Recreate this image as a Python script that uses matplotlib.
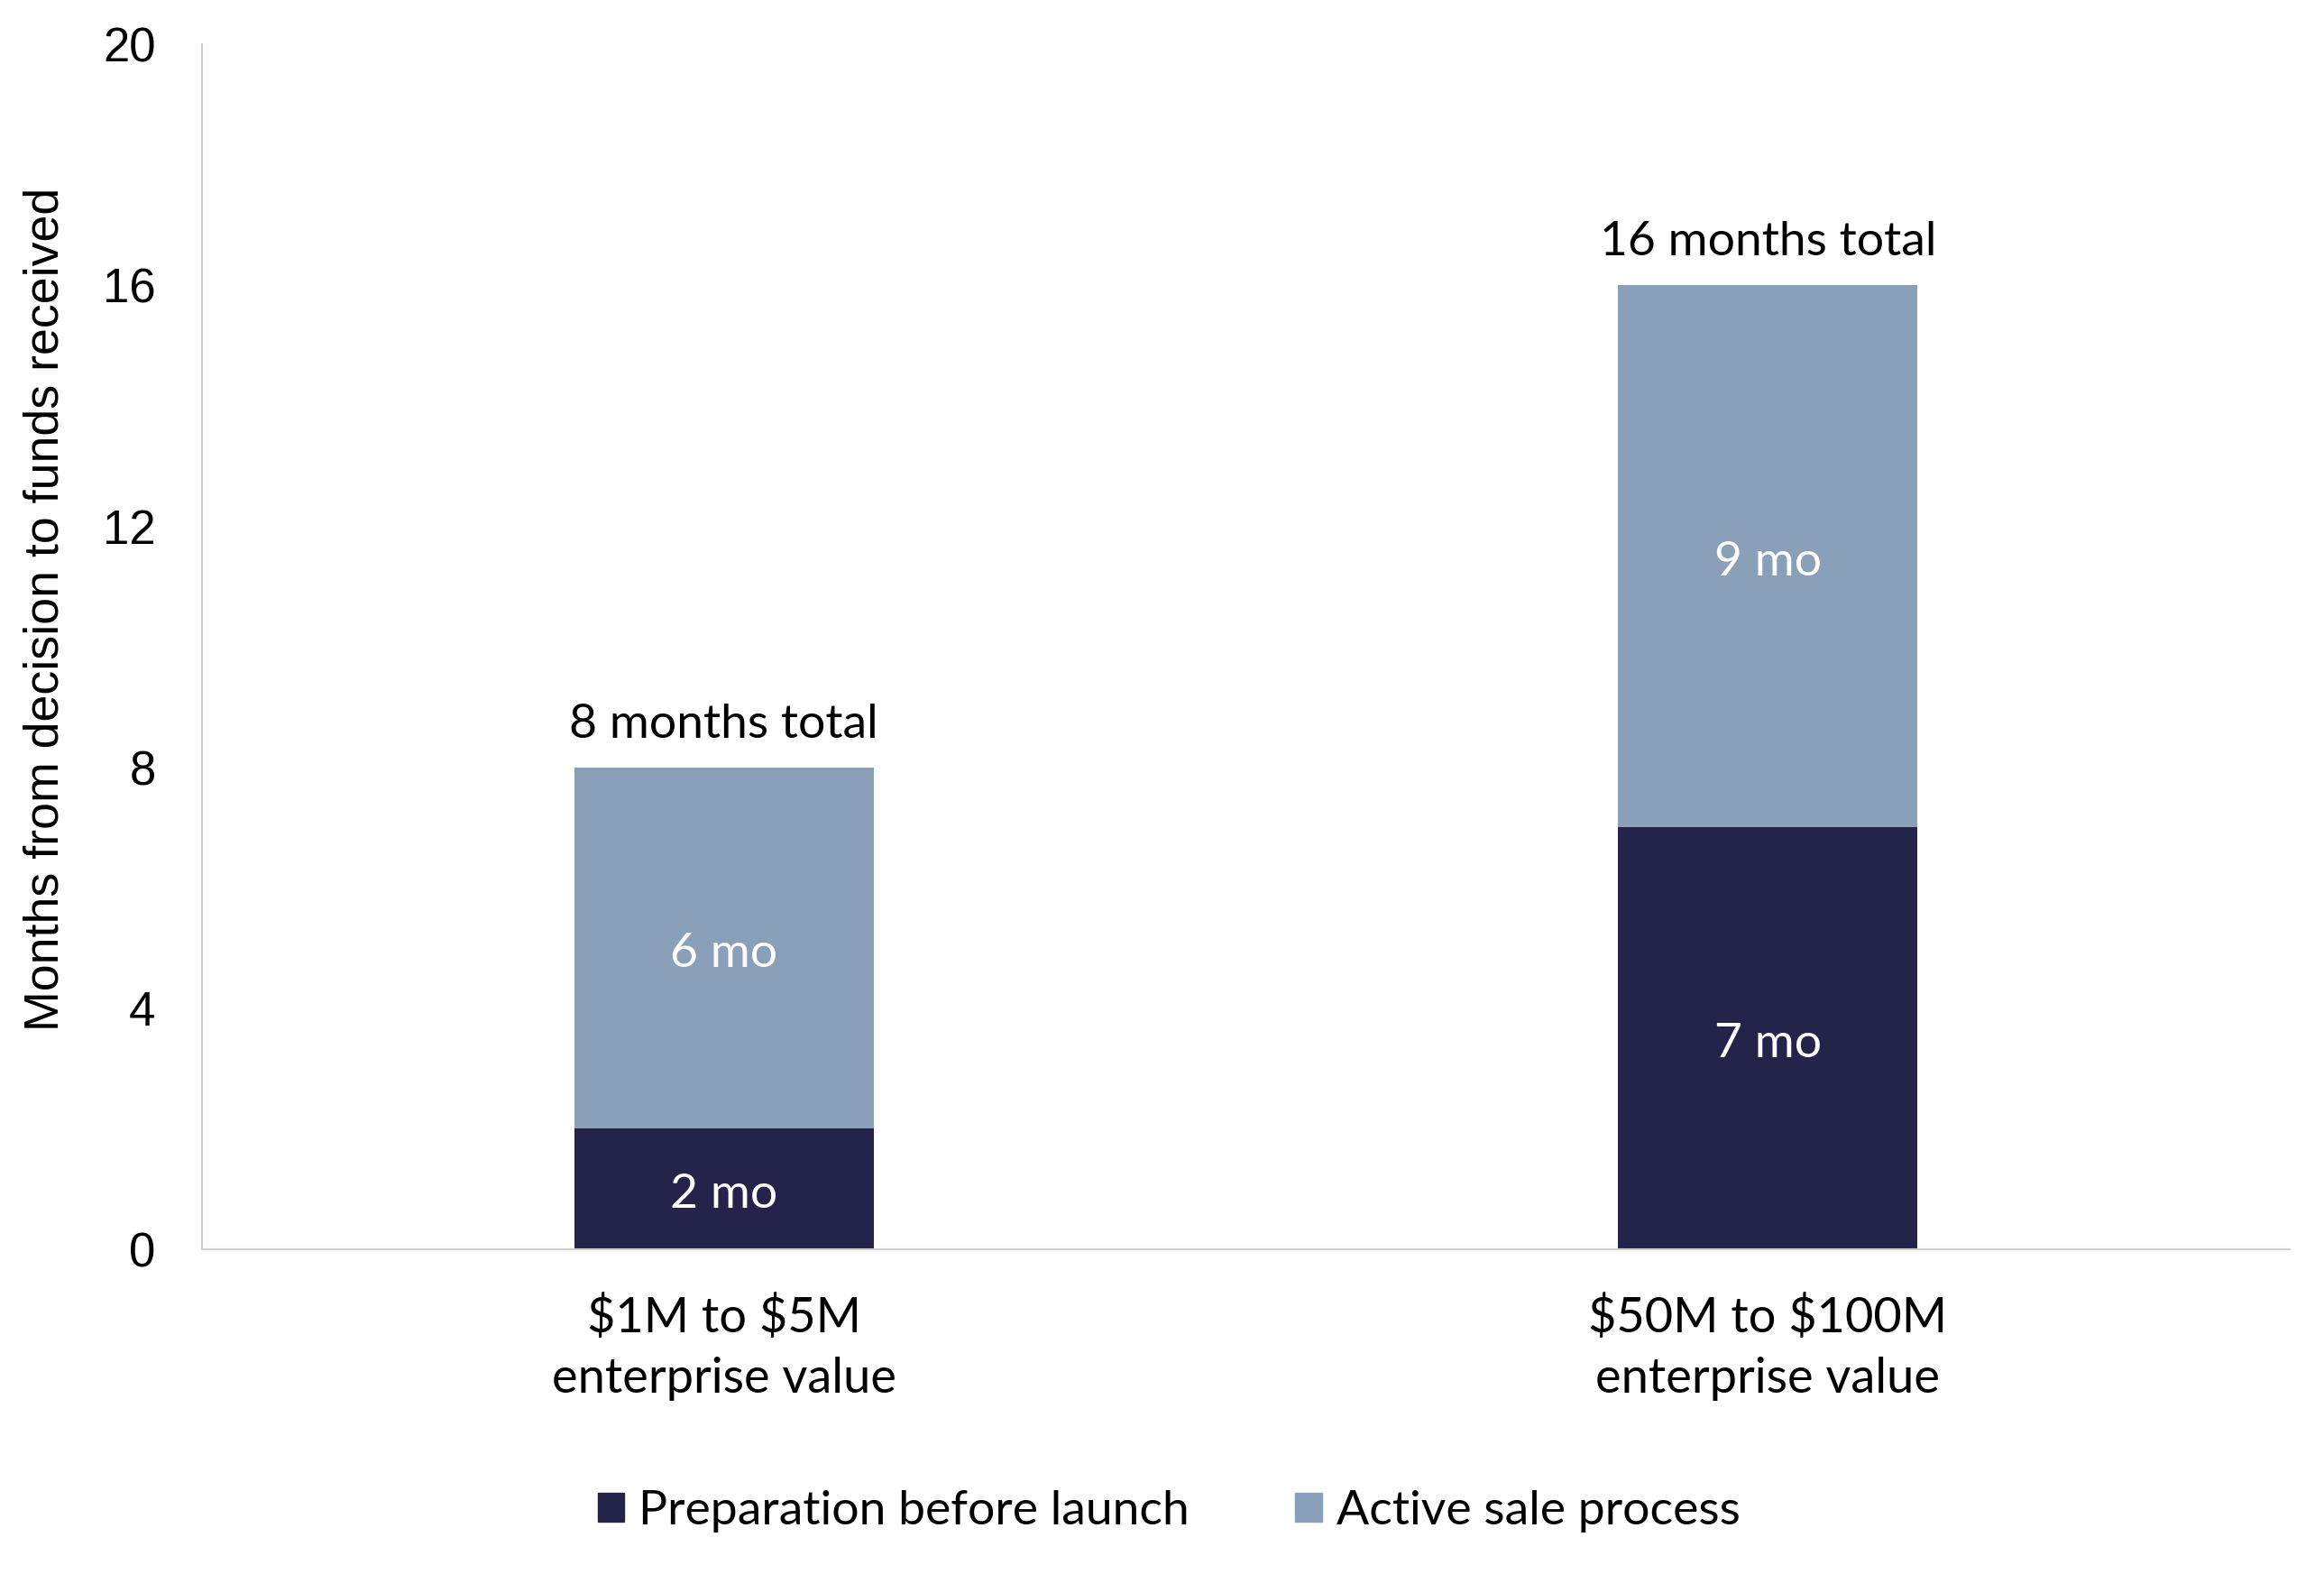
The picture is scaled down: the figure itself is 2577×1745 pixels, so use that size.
import numpy as np
import matplotlib.pyplot as plt
from matplotlib.patches import Patch

# data
categories = ['\\$1M to \\$5M\nenterprise value', '\\$50M to \\$100M\nenterprise value']
preparation = [2, 7]
active_sale = [6, 9]
series_names = ['Preparation before launch', 'Active sale process']
y_ticks = [0, 4, 8, 12, 16, 20]

dark = '#24244A'
light = '#8AA0B8'
text_font = ['Lato', 'DejaVu Sans']
tick_font = ['Liberation Sans', 'DejaVu Sans']

fig = plt.figure(figsize=(25.77, 17.45), dpi=100)
ax = fig.add_axes([0.0869, 0.2063, 0.8984, 0.7656])

x = np.arange(len(categories))
w = 0.287
prep = np.array(preparation)
act = np.array(active_sale)
total = prep + act

ax.bar(x, prep, w, color=dark, zorder=2)
ax.bar(x, act, w, bottom=prep, color=light, zorder=2)

# segment labels sit a touch below the true middle, like Excel does
for i in range(len(x)):
    ax.text(x[i], prep[i] / 2 - 0.1, f'{prep[i]} mo', ha='center', va='center',
            color='white', fontsize=38.5, family=text_font)
    ax.text(x[i], prep[i] + act[i] / 2 - 0.1, f'{act[i]} mo', ha='center', va='center',
            color='white', fontsize=38.5, family=text_font)
    ax.text(x[i], total[i] + 0.36, f'{total[i]} months total', ha='center', va='bottom',
            color='black', fontsize=38.5, family=text_font)

ax.set_xlim(-0.5, 1.5)
ax.set_ylim(0, 20)
ax.set_yticks(y_ticks)
ax.set_yticklabels([str(t) for t in y_ticks], fontsize=38, family=tick_font)
ax.set_xticks(x)
ax.set_xticklabels(categories, fontsize=39, family=text_font, linespacing=1.45)
ax.tick_params(axis='both', length=0)
ax.tick_params(axis='y', pad=37)
ax.tick_params(axis='x', pad=36)
ax.set_ylabel('Months from decision to funds received', fontsize=38.7,
              family=tick_font)
ax.yaxis.set_label_coords(-0.064, 0.531)

for side in ['top', 'right']:
    ax.spines[side].set_visible(False)
for side in ['left', 'bottom']:
    ax.spines[side].set_color('#D0D0D0')
    ax.spines[side].set_linewidth(1.5)

handles = [Patch(color=dark), Patch(color=light)]
fig.legend(handles, series_names, loc='center', bbox_to_anchor=(0.503, 0.040),
           ncol=2, frameon=False, prop={'family': text_font, 'size': 38.5},
           handlelength=0.55, handleheight=0.55, handletextpad=0.3, columnspacing=2.2)

fig.savefig('out.png', dpi=100)
